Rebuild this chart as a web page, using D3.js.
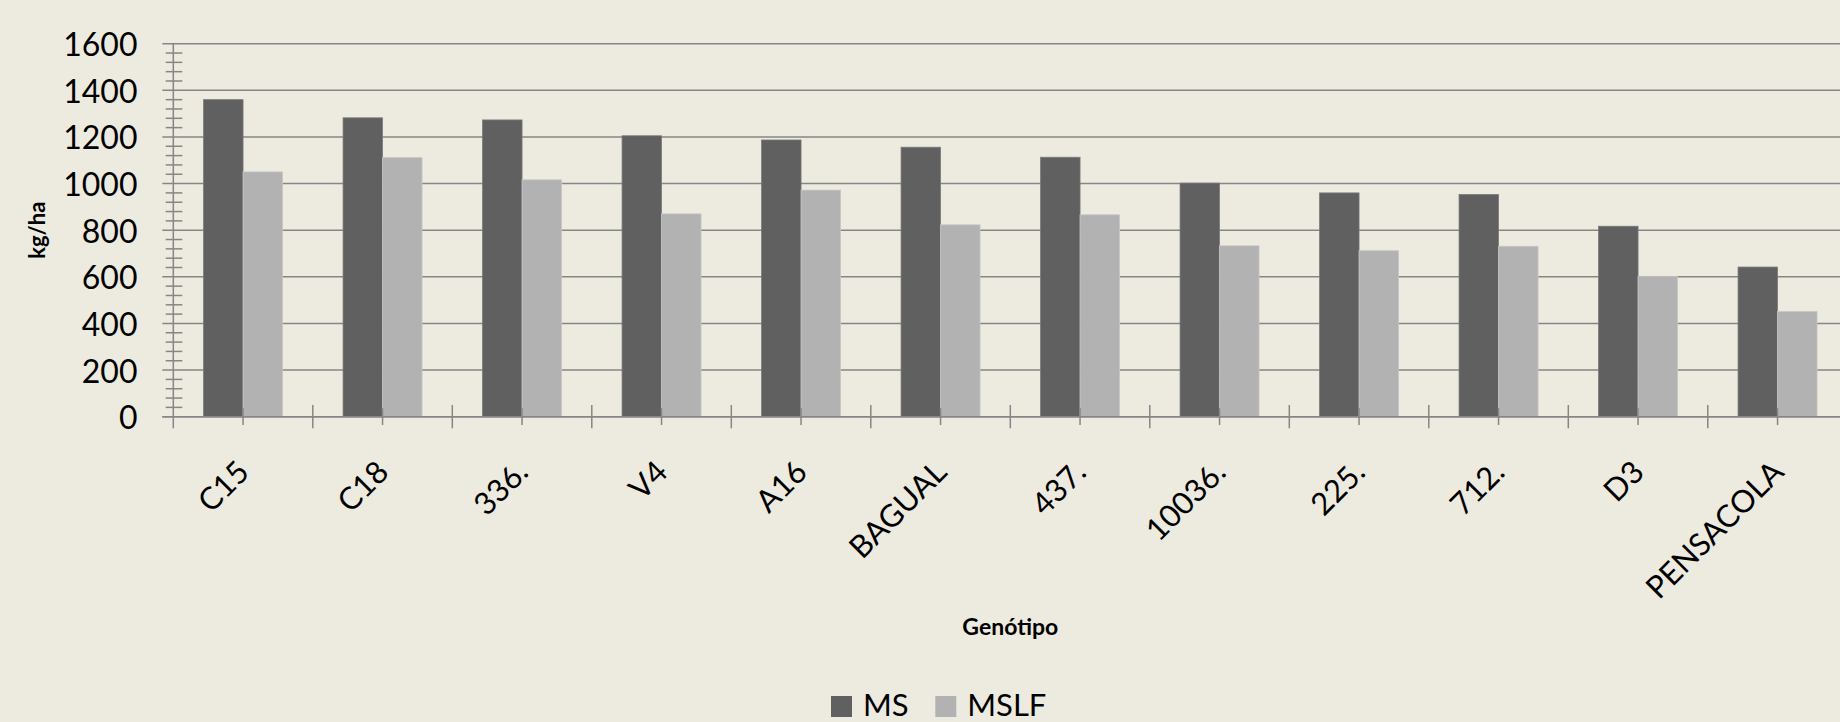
<!DOCTYPE html>
<html>
<head>
<meta charset="utf-8">
<script src="https://cdn.jsdelivr.net/npm/d3@7"></script>
<style>
  html, body { margin: 0; padding: 0; background: #edebe0; }
  svg { display: block; }
  text { font-family: Lato, "Open Sans", sans-serif; fill: #000; }
</style>
</head>
<body>
<div id="chart"></div>
<script>
// Genotype yield, kg/ha — two series per genotype
const genotypes = ['C15', 'C18', '336.', 'V4', 'A16', 'BAGUAL', '437.', '10036.', '225.', '712.', 'D3', 'PENSACOLA'];
const seriesNames = ['MS', 'MSLF'];
const msValues = [1360, 1282, 1273, 1205, 1187, 1156, 1113, 1002, 960, 953, 817, 642];
const mslfValues = [1050, 1111, 1016, 870, 972, 823, 866, 733, 712, 731, 602, 451];
const yTicks = [0, 200, 400, 600, 800, 1000, 1200, 1400, 1600];
const seriesColors = ['#606060', '#b2b2b2'];

const W = 1840, H = 722;
const plotL = 173.3, plotR = 1847.3;
const plotT = 43.7, plotB = 416.7;
const axisColor = '#868686';

const svg = d3.select('#chart').append('svg')
  .attr('width', W).attr('height', H);

const x0 = d3.scaleBand().domain(genotypes).range([plotL, plotR]).padding(0);
const bw = x0.bandwidth();
const groupW = 79;
const x1 = d3.scaleBand().domain(seriesNames)
  .range([(bw - groupW) / 2, (bw + groupW) / 2]).padding(0);
const y = d3.scaleLinear().domain([0, 1600]).range([plotB, plotT]);

// gridlines (major ticks extend a bit left of the axis)
svg.append('g').selectAll('line').data(yTicks).join('line')
  .attr('x1', 162.3).attr('x2', W)
  .attr('y1', d => y(d)).attr('y2', d => y(d))
  .attr('stroke', axisColor).attr('stroke-width', 1.5);

// minor ticks every 40
const minor = d3.range(0, 1601, 40).filter(v => v % 200 !== 0);
svg.append('g').selectAll('line').data(minor).join('line')
  .attr('x1', 165.7).attr('x2', 182.3)
  .attr('y1', d => y(d)).attr('y2', d => y(d))
  .attr('stroke', axisColor).attr('stroke-width', 1.5);

// y axis line
svg.append('line')
  .attr('x1', plotL).attr('x2', plotL).attr('y1', plotT).attr('y2', 428.3)
  .attr('stroke', axisColor).attr('stroke-width', 1.5);

// y tick labels
svg.append('g').selectAll('text').data(yTicks).join('text')
  .attr('x', 137.5).attr('y', d => y(d))
  .attr('text-anchor', 'end').attr('dominant-baseline', 'central')
  .style('font-size', '32px')
  .text(d => d);

// bars
const rows = genotypes.map((g, i) => ({ g, vals: [msValues[i], mslfValues[i]] }));
const groups = svg.append('g').selectAll('g').data(rows).join('g')
  .attr('transform', d => `translate(${x0(d.g)},0)`);
groups.selectAll('rect')
  .data(d => d.vals.map((v, j) => ({ s: seriesNames[j], v, j })))
  .join('rect')
  .attr('x', d => x1(d.s))
  .attr('width', x1.bandwidth())
  .attr('y', d => y(d.v))
  .attr('height', d => plotB - y(d.v))
  .attr('fill', d => seriesColors[d.j])
  .attr('stroke', d => d.j === 0 ? '#7a7a7a' : '#c6c6c6')
  .attr('stroke-width', 0.8);

// x axis line
svg.append('line')
  .attr('x1', 162.3).attr('x2', W).attr('y1', plotB).attr('y2', plotB)
  .attr('stroke', axisColor).attr('stroke-width', 1.5);

// long ticks on category boundaries, short ticks on category centres
const boundaries = genotypes.map(g => x0(g)).slice(1).concat([plotR]);
svg.append('g').selectAll('line').data(boundaries).join('line')
  .attr('x1', d => d).attr('x2', d => d).attr('y1', 405).attr('y2', 428.3)
  .attr('stroke', axisColor).attr('stroke-width', 1.5);
svg.append('g').selectAll('line').data(genotypes).join('line')
  .attr('x1', d => x0(d) + bw / 2).attr('x2', d => x0(d) + bw / 2)
  .attr('y1', 408.3).attr('y2', 425)
  .attr('stroke', axisColor).attr('stroke-width', 1.5);

// category labels, rotated
svg.append('g').selectAll('text').data(genotypes).join('text')
  .attr('transform', d => `translate(${x0(d) + bw / 2 + 8},474) rotate(-45)`)
  .attr('text-anchor', 'end')
  .style('font-size', '31px')
  .text(d => d);

// axis titles
svg.append('text')
  .attr('x', (plotL + plotR) / 2).attr('y', 635)
  .attr('text-anchor', 'middle')
  .style('font-size', '23px').style('font-weight', 'bold')
  .text('Genótipo');

svg.append('text')
  .attr('transform', `translate(45,${(plotT + plotB) / 2}) rotate(-90)`)
  .attr('text-anchor', 'middle')
  .style('font-size', '22px').style('font-weight', 'bold')
  .text('kg/ha');

// legend
const legendX = [831, 935.3];
const leg = svg.append('g').selectAll('g').data(seriesNames).join('g')
  .attr('transform', (d, i) => `translate(${legendX[i]},696)`);
leg.append('rect')
  .attr('width', 21).attr('height', 21)
  .attr('fill', (d, i) => seriesColors[i]);
leg.append('text')
  .attr('x', 32).attr('y', 20)
  .style('font-size', '31px')
  .text(d => d);
</script>
</body>
</html>
